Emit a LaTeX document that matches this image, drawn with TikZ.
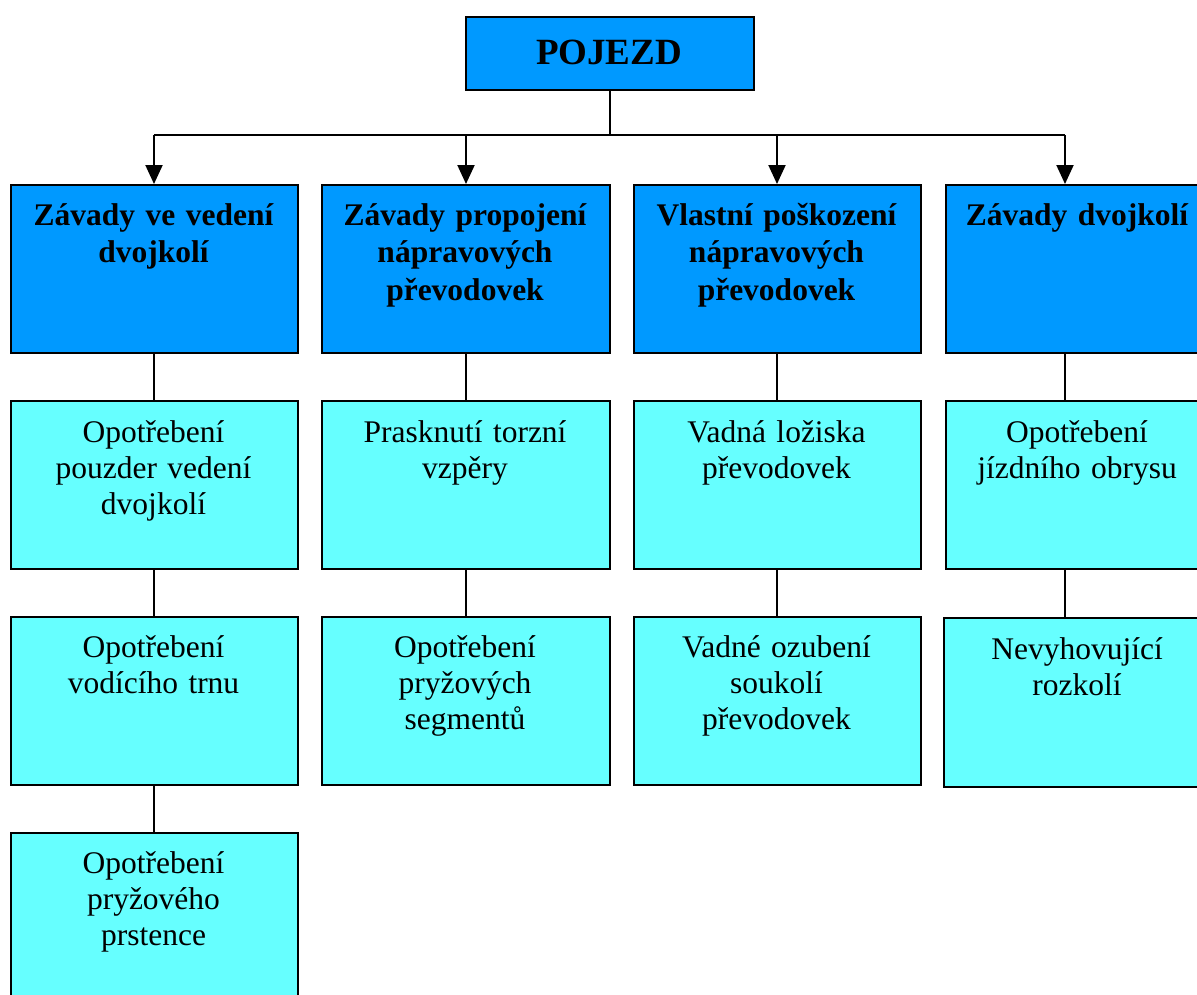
\documentclass[tikz,border=0pt]{standalone}
\usepackage{fontspec}
\setmainfont{Liberation Serif}
\usetikzlibrary{arrows.meta}
\definecolor{headblue}{HTML}{0099FF}
\definecolor{leafcyan}{HTML}{66FFFF}
\tikzset{
  box/.style={draw=black, line width=2pt, rectangle, inner sep=0pt, anchor=north west},
  headbox/.style={box, fill=headblue},
  leafbox/.style={box, fill=leafcyan},
  headtxt/.style={anchor=base, inner sep=0pt, text width=280pt, align=center,
    font=\fontsize{31.5}{37.5}\selectfont\bfseries},
  leaftxt/.style={anchor=base, inner sep=0pt, text width=280pt, align=center,
    font=\fontsize{31.5}{36}\selectfont},
  conn/.style={line width=2pt},
  arr/.style={line width=2pt, -{Triangle[length=19pt,width=17pt]}}
}
\begin{document}
\begin{tikzpicture}[x=1pt,y=-1pt]
\useasboundingbox (0,0) rectangle (1197,994);
\clip (0,0) rectangle (1197,994);
% root
\node[headbox, minimum width=288pt, minimum height=73pt] (root) at (465,16) {};
\node[anchor=base, inner sep=0pt, font=\fontsize{37}{42}\selectfont\bfseries] (roott) at (609,64) {POJEZD};
% level 1
\node[headbox, minimum width=287pt, minimum height=168pt] (a1) at (10,184) {};
\node[headbox, minimum width=288pt, minimum height=168pt] (a2) at (321,184) {};
\node[headbox, minimum width=287pt, minimum height=168pt] (a3) at (633,184) {};
\node[headbox, minimum width=264pt, minimum height=168pt] (a4) at (945,184) {};
\node[headtxt] (a1t) at (153.5,225) {Závady ve vedení\\dvojkolí};
\node[headtxt] (a2t) at (465,225) {Závady propojení\\nápravových\\převodovek};
\node[headtxt] (a3t) at (776.5,225) {Vlastní poškození\\nápravových\\převodovek};
\node[headtxt] (a4t) at (1077,225) {Závady dvojkolí};
% level 2
\node[leafbox, minimum width=287pt, minimum height=168pt] (b1) at (10,400) {};
\node[leafbox, minimum width=288pt, minimum height=168pt] (b2) at (321,400) {};
\node[leafbox, minimum width=287pt, minimum height=168pt] (b3) at (633,400) {};
\node[leafbox, minimum width=264pt, minimum height=168pt] (b4) at (945,400) {};
\node[leaftxt] (b1t) at (153.5,442) {Opotřebení\\pouzder vedení\\dvojkolí};
\node[leaftxt] (b2t) at (465,442) {Prasknutí torzní\\vzpěry};
\node[leaftxt] (b3t) at (776.5,442) {Vadná ložiska\\převodovek};
\node[leaftxt] (b4t) at (1077,442) {Opotřebení\\jízdního obrysu};
% level 3
\node[leafbox, minimum width=287pt, minimum height=168pt] (c1) at (10,616) {};
\node[leafbox, minimum width=288pt, minimum height=168pt] (c2) at (321,616) {};
\node[leafbox, minimum width=287pt, minimum height=168pt] (c3) at (633,616) {};
\node[leafbox, minimum width=266pt, minimum height=169pt] (c4) at (943,617) {};
\node[leaftxt] (c1t) at (153.5,657) {Opotřebení\\vodícího trnu};
\node[leaftxt] (c2t) at (465,657) {Opotřebení\\pryžových\\segmentů};
\node[leaftxt] (c3t) at (776.5,657) {Vadné ozubení\\soukolí\\převodovek};
\node[leaftxt] (c4t) at (1077,659) {Nevyhovující\\rozkolí};
% level 4
\node[leafbox, minimum width=287pt, minimum height=180pt] (d1) at (10,832) {};
\node[leaftxt] (d1t) at (153.5,873) {Opotřebení\\pryžového\\prstence};
% connectors
\coordinate (bus) at (0,135);
\coordinate (k1) at (154,0);
\coordinate (k2) at (466,0);
\coordinate (k3) at (777,0);
\coordinate (k4) at (1065,0);
\draw[conn] (root.south) -- (root.south |- bus);
\draw[conn] (k1 |- bus) -- (k4 |- bus);
\draw[arr] (k1 |- bus) -- (k1 |- a1.north);
\draw[arr] (k2 |- bus) -- (k2 |- a2.north);
\draw[arr] (k3 |- bus) -- (k3 |- a3.north);
\draw[arr] (k4 |- bus) -- (k4 |- a4.north);
\draw[conn] (k1 |- a1.south) -- (k1 |- b1.north);
\draw[conn] (k2 |- a2.south) -- (k2 |- b2.north);
\draw[conn] (k3 |- a3.south) -- (k3 |- b3.north);
\draw[conn] (k4 |- a4.south) -- (k4 |- b4.north);
\draw[conn] (k1 |- b1.south) -- (k1 |- c1.north);
\draw[conn] (k2 |- b2.south) -- (k2 |- c2.north);
\draw[conn] (k3 |- b3.south) -- (k3 |- c3.north);
\draw[conn] (k4 |- b4.south) -- (k4 |- c4.north);
\draw[conn] (k1 |- c1.south) -- (k1 |- d1.north);
\end{tikzpicture}
\end{document}
